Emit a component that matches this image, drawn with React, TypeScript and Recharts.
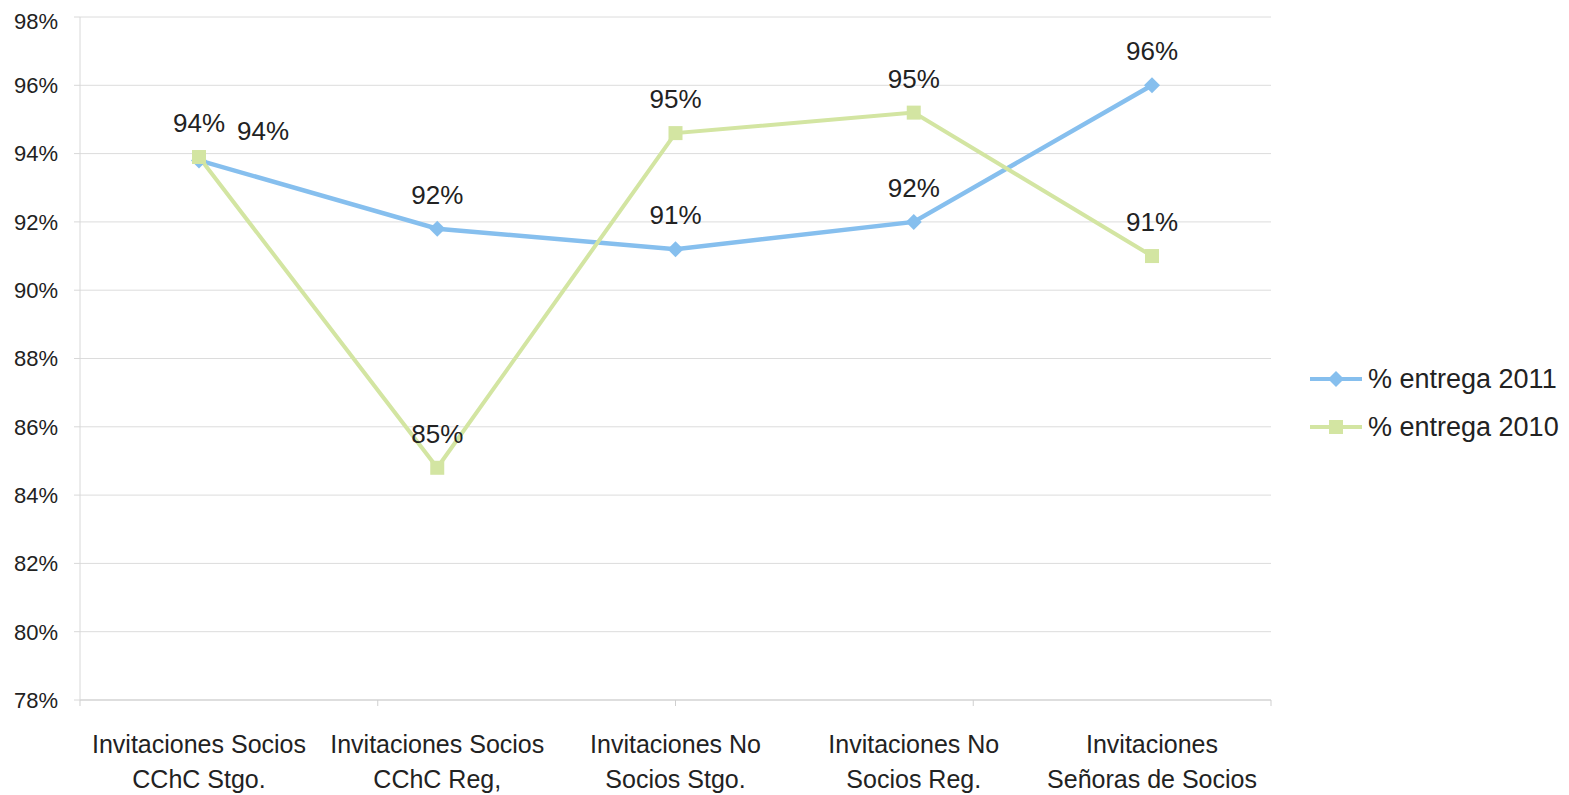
import React from 'react';
import { LineChart, Line, XAxis, YAxis, CartesianGrid } from 'recharts';

const categories = [
  'Invitaciones Socios\nCChC Stgo.',
  'Invitaciones Socios\nCChC Reg,',
  'Invitaciones No\nSocios Stgo.',
  'Invitaciones No\nSocios Reg.',
  'Invitaciones\nSeñoras de Socios',
];
const entrega2011 = [93.8, 91.8, 91.2, 92.0, 96.0];
const entrega2010 = [93.9, 84.8, 94.6, 95.2, 91.0];
const yTicks = [78, 80, 82, 84, 86, 88, 90, 92, 94, 96, 98];
const boundaryTicks = [0, 1, 2, 3, 4, 5];

const BLUE = '#86bfee';
const GREEN = '#d3e5a2';
const FONT = '"Liberation Sans", Arial, sans-serif';

const data = categories.map((name, i) => ({
  name,
  e2011: entrega2011[i],
  e2010: entrega2010[i],
}));

const series = [
  { key: 'e2011', label: '% entrega 2011', color: BLUE, shape: 'diamond' },
  { key: 'e2010', label: '% entrega 2010', color: GREEN, shape: 'square' },
];

const Diamond = (props: any) => {
  const { cx, cy } = props;
  if (cx == null || cy == null) return null;
  const r = 8;
  return (
    <polygon
      points={`${cx},${cy - r} ${cx + r},${cy} ${cx},${cy + r} ${cx - r},${cy}`}
      fill={BLUE}
    />
  );
};

const Square = (props: any) => {
  const { cx, cy } = props;
  if (cx == null || cy == null) return null;
  return <rect x={cx - 7} y={cy - 7} width={14} height={14} fill={GREEN} />;
};

const makeLabel = (shiftFirst: boolean) => (props: any) => {
  const { x, y, value, index } = props;
  const dx = shiftFirst && index === 0 ? 64 : 0;
  const dy = shiftFirst && index === 0 ? 5 : 0;
  return (
    <text
      x={x + dx}
      y={y - 34 + dy}
      textAnchor="middle"
      dominantBaseline="central"
      fontFamily={FONT}
      fontSize={26}
      fill="#222"
    >
      {`${Math.round(value)}%`}
    </text>
  );
};

const CategoryTick = (props: any) => {
  const { x, y, payload } = props;
  const lines = String(payload.value).split('\n');
  return (
    <g transform={`translate(${x},${y})`}>
      {lines.map((l, i) => (
        <text
          key={i}
          x={0}
          y={35 + i * 35}
          textAnchor="middle"
          dominantBaseline="central"
          fontFamily={FONT}
          fontSize={25}
          fill="#222"
        >
          {l}
        </text>
      ))}
    </g>
  );
};

const NoTick = () => <g />;

export default function App() {
  return (
    <div style={{ position: 'relative', width: 1553, height: 787 }}>
      <LineChart
        width={1553}
        height={787}
        data={data}
        margin={{ top: 9, right: 290, bottom: 8, left: 0 }}
      >
        <XAxis
          xAxisId="bounds"
          type="number"
          domain={[0, 5]}
          ticks={boundaryTicks}
          allowDataOverflow
          height={1}
          stroke="#cfcfcf"
          tickLine={{ stroke: '#cfcfcf' }}
          tickSize={6}
          tick={<NoTick />}
        />
        <XAxis
          xAxisId="cat"
          dataKey="name"
          axisLine={false}
          tickLine={false}
          padding={{ left: 119, right: 119 }}
          height={86}
          interval={0}
          tick={<CategoryTick />}
        />
        <YAxis
          domain={[78, 98]}
          ticks={yTicks}
          width={72}
          stroke="#d8d8d8"
          tickLine={{ stroke: '#d8d8d8' }}
          tickSize={6}
          tickMargin={16}
          tickFormatter={(v: number) => `${v}%`}
          tick={{ fontFamily: FONT, fontSize: 22, fill: '#222' }}
        />
        <CartesianGrid xAxisId="cat" vertical={false} stroke="#dcdcdc" />
        <Line
          xAxisId="cat"
          dataKey="e2011"
          stroke={BLUE}
          strokeWidth={4.5}
          dot={<Diamond />}
          activeDot={false}
          label={makeLabel(true)}
          isAnimationActive={false}
        />
        <Line
          xAxisId="cat"
          dataKey="e2010"
          stroke={GREEN}
          strokeWidth={4}
          dot={<Square />}
          activeDot={false}
          label={makeLabel(false)}
          isAnimationActive={false}
        />
      </LineChart>
      <div style={{ position: 'absolute', left: 1302, top: 347, fontFamily: FONT, fontSize: 27, color: '#222' }}>
        {series.map((s) => (
          <div key={s.key} style={{ display: 'flex', alignItems: 'center', height: 48, whiteSpace: 'nowrap' }}>
            <svg width={54} height={20} style={{ marginRight: 4 }}>
              <line x1={0} y1={10} x2={52} y2={10} stroke={s.color} strokeWidth={4} />
              {s.shape === 'diamond' ? (
                <polygon points="26,2 34,10 26,18 18,10" fill={s.color} />
              ) : (
                <rect x={19} y={3} width={14} height={14} fill={s.color} />
              )}
            </svg>
            <span>{s.label}</span>
          </div>
        ))}
      </div>
    </div>
  );
}
